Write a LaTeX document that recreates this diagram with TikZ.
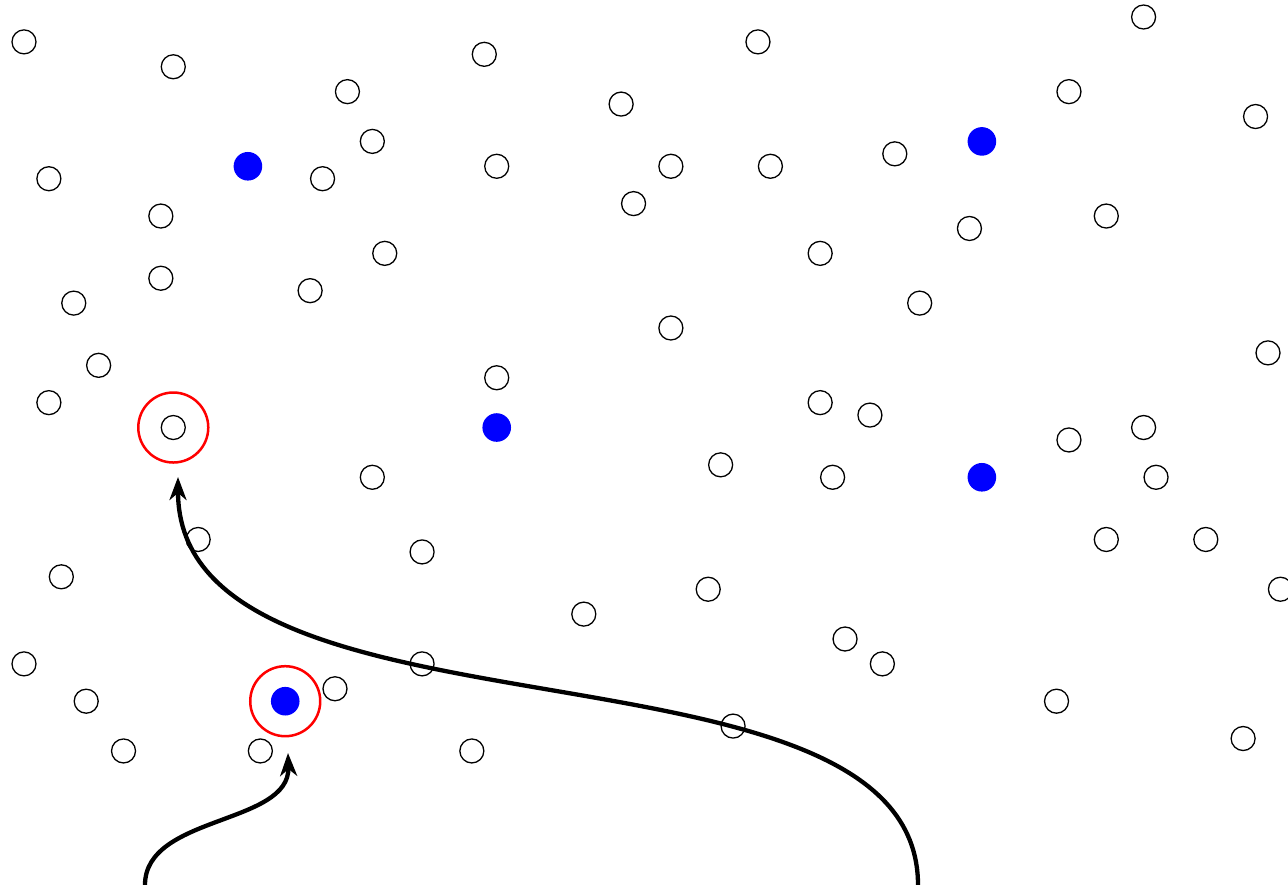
\documentclass[tikz,border=0pt]{standalone}
\usetikzlibrary{arrows.meta}
\begin{document}
\begin{tikzpicture}[x=1pt,y=-1pt,
  dotnode/.style={circle,draw=black,line width=1.3pt,minimum size=24pt,inner sep=0pt},
  hitnode/.style={circle,fill=blue,minimum size=28.6pt,inner sep=0pt},
  ringnode/.style={circle,draw=red,line width=2.5pt,minimum size=70pt,inner sep=0pt},
  link/.style={line width=4.3pt,-{Stealth[length=23pt,width=17pt,inset=7pt]}}]
\useasboundingbox (0,0) rectangle (1288,885);
% empty points on the grid
\foreach \i/\j [count=\k] in {0/2, 12/4, 26/6, 37/3, 48/7, 59/2, 90/0, 84/6, 99/8, 28/10,
  2/13, 24/13, 38/12, 52/12, 60/12, 70/11, 11/16, 49/15, 87/16, 76/17, 29/19, 64/19,
  11/21, 4/23, 23/22, 72/23, 52/25, 6/28, 38/29, 100/27, 2/31, 12/33, 64/31, 68/32,
  84/34, 90/33, 28/37, 56/36, 65/37, 91/37, 14/42, 32/43, 87/42, 95/42, 3/45, 55/46,
  45/48, 101/46, 0/52, 32/52, 66/50, 69/52, 5/55, 25/54, 83/55, 8/59, 19/59, 36/59,
  57/57, 98/58}
  \node[dotnode] (p\k) at ({24+12.44*\i},{17+12.44*\j}) {};
% filled points
\foreach \i/\j [count=\k] in {77/10, 18/12, 38/33, 77/37, 21/55}
  \node[hitnode] (b\k) at ({24+12.44*\i},{17+12.44*\j}) {};
% red rings
\node[ringnode] (ringA) at ({24+12.44*12},{17+12.44*33}) {};
\node[ringnode] (ringB) at ({24+12.44*21},{17+12.44*55}) {};
% arrow ends
\coordinate (startA) at (918,885);
\coordinate (tipA) at (178,477);
\coordinate (startB) at (145,885);
\coordinate (tipB) at (288,753);
\draw[link] (startA) .. controls (918,620) and (178,760) .. (tipA);
\draw[link] (startB) .. controls (145,815) and (290,825) .. (tipB);
\end{tikzpicture}
\end{document}
